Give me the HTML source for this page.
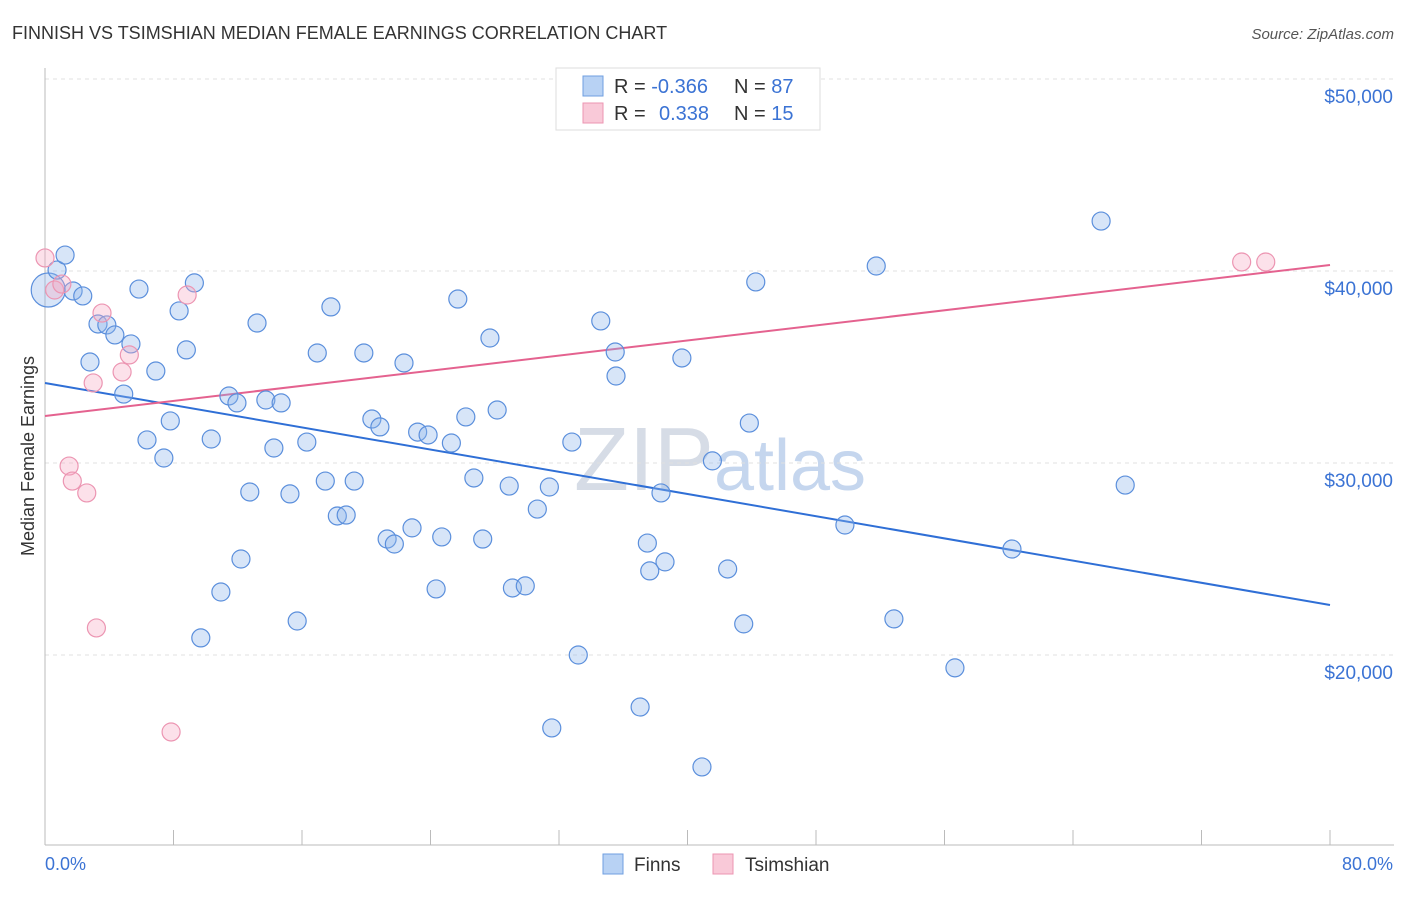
<!DOCTYPE html>
<html><head><meta charset="utf-8"><style>
body{margin:0;background:#fff;font-family:"Liberation Sans",sans-serif;}
svg text{font-family:"Liberation Sans",sans-serif;}
</style></head><body>
<svg id="chart" width="1406" height="892" xmlns="http://www.w3.org/2000/svg">
<text x="12" y="39" font-size="18" fill="#333">FINNISH VS TSIMSHIAN MEDIAN FEMALE EARNINGS CORRELATION CHART</text>
<text x="1394" y="39" font-size="15" fill="#555" font-style="italic" text-anchor="end">Source: ZipAtlas.com</text>
<text x="720" y="490" font-size="90" fill="#d6dce6" text-anchor="middle" font-family="Liberation Serif">ZIP<tspan fill="#c5d6ee" font-family="Liberation Sans" font-size="72">atlas</tspan></text>
<g id="grid"></g><g id="axes"></g><g id="lines"></g><g id="pts"></g>
<text transform="translate(34,456) rotate(-90)" font-size="18" fill="#333" text-anchor="middle">Median Female Earnings</text>
<text x="45" y="870" font-size="18" fill="#3b73d4">0.0%</text>
<text x="1393" y="870" font-size="18" fill="#3b73d4" text-anchor="end">80.0%</text>
<g>
<rect x="556" y="68" width="264" height="62" fill="#fff" stroke="#ddd"/>
<rect x="583" y="76" width="20" height="20" fill="#b8d2f4" stroke="#6f9fe0"/>
<rect x="583" y="103" width="20" height="20" fill="#f9c9d8" stroke="#ec95b2"/>
<text x="614" y="93" font-size="20" fill="#333">R = <tspan fill="#3b73d4">-0.366</tspan><tspan x="734">N = </tspan><tspan fill="#3b73d4">87</tspan></text>
<text x="614" y="120" font-size="20" fill="#333">R = <tspan x="659" fill="#3b73d4">0.338</tspan><tspan x="734">N = </tspan><tspan fill="#3b73d4">15</tspan></text>
</g>
<g>
<rect x="603" y="854" width="20" height="20" fill="#b8d2f4" stroke="#6f9fe0"/>
<text x="634" y="871" font-size="19" fill="#333">Finns</text>
<rect x="713" y="854" width="20" height="20" fill="#f9c9d8" stroke="#ec95b2"/>
<text x="745" y="871" font-size="19" fill="#333">Tsimshian</text>
</g>
</svg>
<script>
const yTicks=[20000,30000,40000,50000];
const yTickLabels=["$20,000","$30,000","$40,000","$50,000"];
const finnX=[0.2,0.75,1.25,1.75,2.35,2.8,3.3,3.85,4.35,4.9,5.35,5.85,6.35,6.9,7.4,7.8,8.35,8.8,9.3,9.7,10.35,10.95,11.45,11.95,12.2,12.75,13.2,13.75,14.25,14.7,15.25,15.7,16.3,16.95,17.45,17.8,18.2,18.75,19.25,19.85,20.35,20.85,21.3,21.75,22.35,22.85,23.2,23.85,24.35,24.7,25.3,25.7,26.2,26.7,27.25,27.7,28.15,28.9,29.1,29.9,30.65,31.4,31.55,32.8,33.2,34.6,35.5,35.55,37.05,37.5,37.65,38.35,38.6,39.65,40.9,41.55,42.5,43.5,43.85,44.25,49.8,51.75,52.85,56.65,60.2,65.75,67.25];
const finnY=[39010,40050,40830,38960,38700,35260,37240,37190,36670,33590,36200,39060,31200,34790,30260,32190,37920,35890,39380,20890,31250,23280,33490,33130,25000,28490,37290,33280,30780,33130,28390,21770,31090,35730,29060,38130,27240,27290,29060,35730,32290,31880,26040,25780,35210,26620,31610,31460,23440,26150,31040,38540,32400,29220,26040,36510,32760,28800,23490,23600,27600,28750,16200,31090,20000,37400,35780,34530,17290,25830,24380,28440,24850,35470,14170,30110,24480,21620,32080,39430,26770,40260,21880,19330,25520,42600,28850];
const tsimX=[0,0.6,1.05,1.5,1.7,2.6,3.0,3.2,3.55,4.8,5.25,7.85,8.85,74.5,76];
const tsimY=[40680,39010,39320,29840,29060,28440,34170,21410,37810,34740,35630,15990,38750,40470,40470];
const finnTrend=[34167,22604];
const tsimTrend=[32448,40313];
const NS="http://www.w3.org/2000/svg";
const X=v=>45+v*(1285/80);
const Y=v=>79+(50000-v)/10000*192;
function mk(tag,attrs,parent){const e=document.createElementNS(NS,tag);for(const k in attrs)e.setAttribute(k,attrs[k]);document.getElementById(parent).appendChild(e);return e;}
yTicks.forEach((t,i)=>{
 const l=mk('line',{x1:45,x2:1394,y1:Y(t),y2:Y(t),stroke:'#e0e0e0','stroke-dasharray':'4,4'},'grid');
 
 
 const tx=mk('text',{x:1393,y:Y(t)+24,'font-size':19,fill:'#3b73d4','text-anchor':'end'},'grid');
 tx.textContent=yTickLabels[i];
 
 
});
const gl=mk('line',{x1:45,x2:1394,y1:79,y2:79,stroke:'#e0e0e0','stroke-dasharray':'4,4'},'grid');


const ya=mk('line',{x1:45,x2:45,y1:68,y2:845,stroke:'#bbb'},'axes');


const xa=mk('line',{x1:45,x2:1394,y1:845,y2:845,stroke:'#bbb'},'axes');


for(let i=0;i<=10;i++){const t=mk('line',{x1:X(i*8),x2:X(i*8),y1:830,y2:845,stroke:'#bbb'},'axes');
 
 }
const l1=mk('line',{x1:X(0),x2:X(80),y1:Y(finnTrend[0]),y2:Y(finnTrend[1]),stroke:'#2f6fd6','stroke-width':2},'lines');


const l2=mk('line',{x1:X(0),x2:X(80),y1:Y(tsimTrend[0]),y2:Y(tsimTrend[1]),stroke:'#e4628f','stroke-width':2},'lines');


finnX.forEach((x,i)=>{const c=mk('circle',{cx:X(x),cy:Y(finnY[i]),r:i===0?17:9,fill:'rgba(140,180,235,0.35)',stroke:'#5b8fdc','stroke-width':1.2},'pts');
 
 });
tsimX.forEach((x,i)=>{const c=mk('circle',{cx:X(x),cy:Y(tsimY[i]),r:9,fill:'rgba(245,170,195,0.35)',stroke:'#ec95b2','stroke-width':1.2},'pts');
 
 });
</script>
</body></html>
